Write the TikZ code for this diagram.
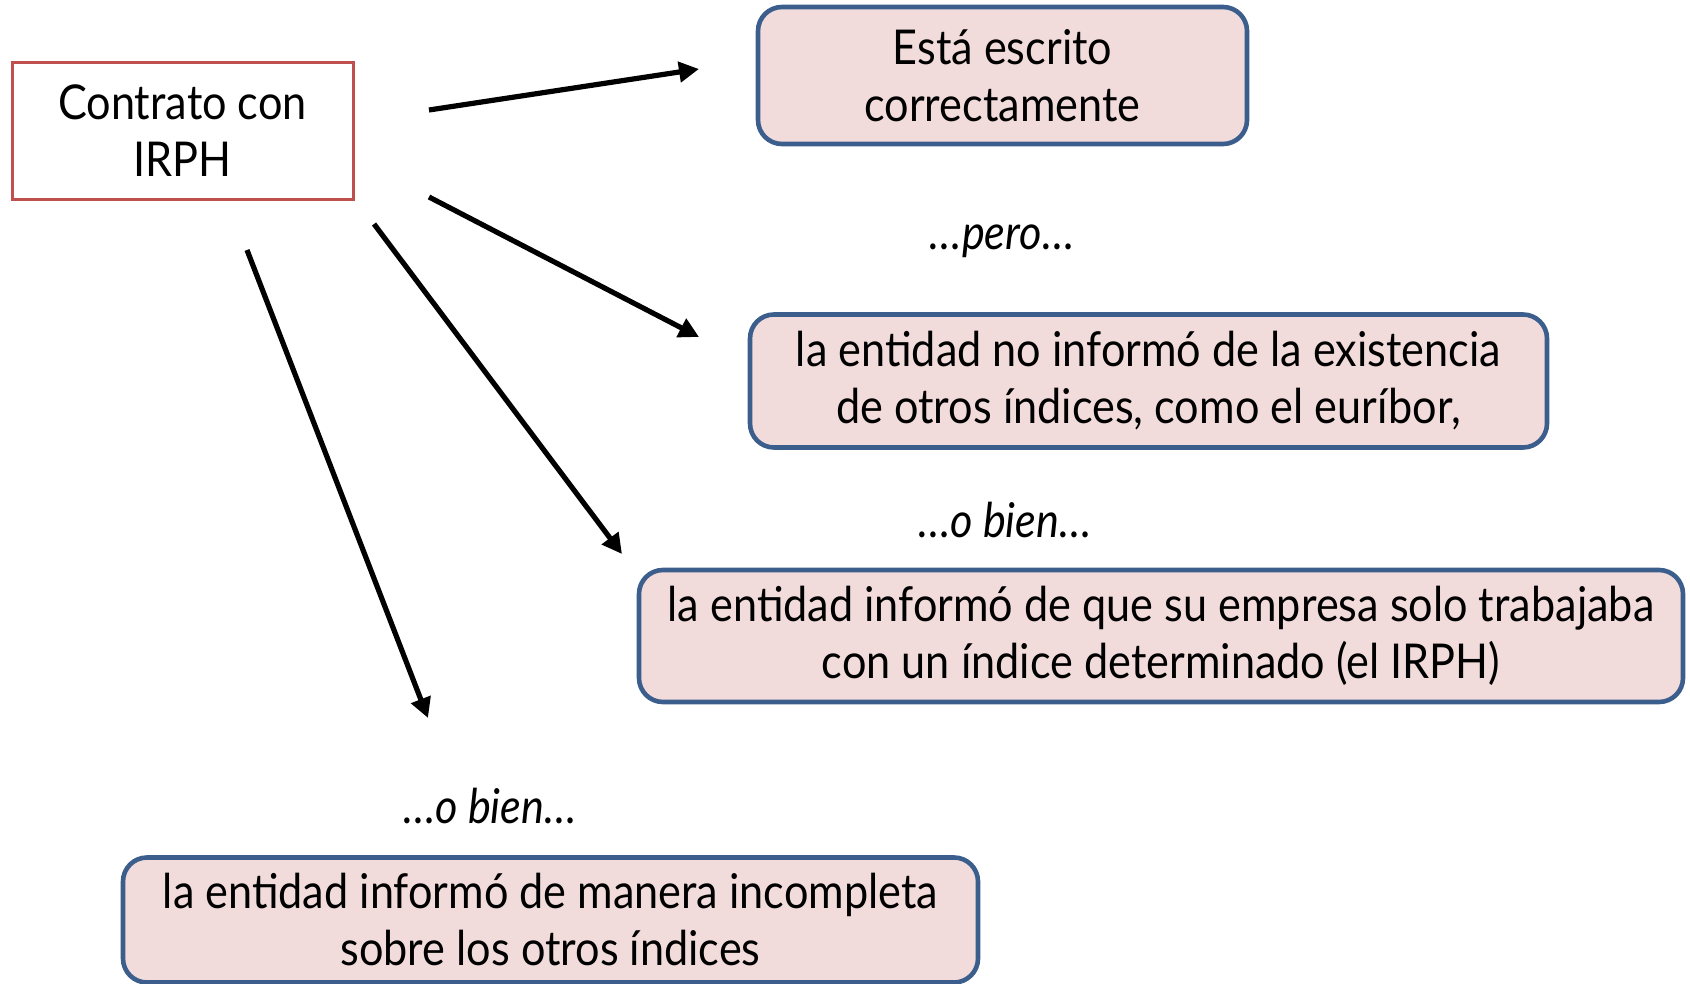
\documentclass[tikz,border=0pt]{standalone}
\usepackage{fontspec}
\setmainfont{Lato}[FakeStretch=0.9]
\usetikzlibrary{arrows.meta}
\definecolor{boxfill}{HTML}{F2DCDB}
\definecolor{boxline}{HTML}{3B5E8C}
\definecolor{redline}{HTML}{C0504D}
\tikzset{
  infobox/.style={draw=boxline, line width=2.3pt, fill=boxfill, rounded corners=12pt,
    align=center, inner sep=0pt, font=\fontsize{24pt}{28.5pt}\selectfont},
  mainbox/.style={draw=redline, line width=1.5pt, fill=white,
    align=center, inner sep=0pt, font=\fontsize{24pt}{28.5pt}\selectfont},
  conn/.style={line width=2.6pt, -{Triangle[length=10pt,width=10pt]}},
  midlabel/.style={font=\fontsize{24pt}{28.5pt}\selectfont\itshape}
}
\begin{document}
\begin{tikzpicture}[x=0.5pt,y=-0.5pt]
\useasboundingbox (0,0) rectangle (1690,984);
\node[mainbox, minimum width=170.5pt, minimum height=68.5pt] (irph) at (182.5,131) {Contrato con\\IRPH};
\node[infobox, minimum width=244.5pt, minimum height=68.5pt] (b1) at (1002.5,75.5) {Está escrito\\correctamente};
\node[infobox, minimum width=398.5pt, minimum height=66.5pt] (b2) at (1148.5,381) {la entidad no informó de la existencia\\de otros índices, como el euríbor,};
\node[infobox, minimum width=522pt, minimum height=66pt] (b3) at (1161,636) {la entidad informó de que su empresa solo trabajaba\\con un índice determinado (el IRPH)};
\node[infobox, minimum width=427.5pt, minimum height=62.5pt] (b4) at (550.5,920) {la entidad informó de manera incompleta\\sobre los otros índices};
\node[midlabel] (l1) at (1002,241) {…pero…};
\node[midlabel] (l2) at (1005,520) {…o bien…};
\node[midlabel] (l3) at (490,806) {…o bien…};
\coordinate (s1) at (429,110); \coordinate (e1) at (699,69);
\coordinate (s2) at (429,197); \coordinate (e2) at (699,337);
\coordinate (s3) at (374,224); \coordinate (e3) at (622,554);
\coordinate (s4) at (247,250); \coordinate (e4) at (428,718);
\draw[conn] (s1) -- (e1);
\draw[conn] (s2) -- (e2);
\draw[conn] (s3) -- (e3);
\draw[conn] (s4) -- (e4);
\end{tikzpicture}
\end{document}
